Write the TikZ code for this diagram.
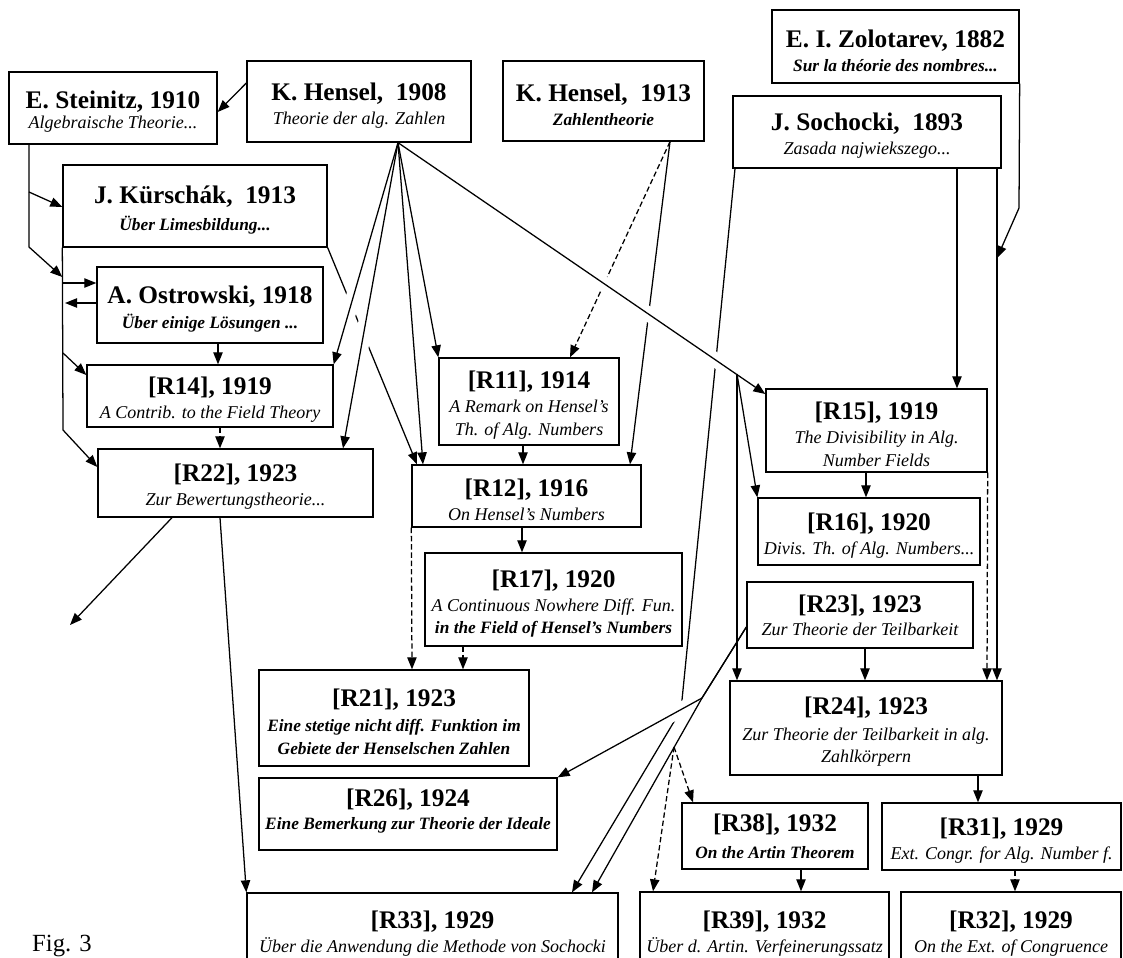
\documentclass[tikz,border=0pt]{standalone}
\usepackage{fontspec}
\setmainfont{Liberation Serif}
\usetikzlibrary{arrows.meta,backgrounds,calc}

\tikzset{
  pbox/.style={draw, line width=1pt, inner sep=0pt, align=center,
    font=\fontsize{13.5}{17}\selectfont},
  arr/.style={line width=0.95pt, -{Triangle[length=9pt,width=7pt]}},
  dsh/.style={dash pattern=on 4pt off 2.2pt},
  halo/.style={draw=white, line width=11pt, shorten <=16pt, shorten >=16pt},
}
% title line (with and without extra head room), italic and bold italic subtitle lines
\newcommand{\ttl}[1]{{\fontsize{19}{22}\selectfont\bfseries\rule{0pt}{19pt}#1}}
\newcommand{\ttlb}[1]{{\fontsize{19}{22}\selectfont\bfseries #1}}
\newcommand{\subi}[1]{{\itshape #1}}
\newcommand{\subb}[1]{{\fontsize{13}{17}\selectfont\bfseries\itshape #1}}
% box from (x1,y1) to (x2,y2), in picture units
\newcommand{\pubbox}[6]{%
  \node[pbox, minimum width={(#4-#2)*0.75pt}, minimum height={(#5-#3)*0.75pt}]
    (#1) at ({(#2+#4)/2},{(#3+#5)/2}) {#6};}

\begin{document}
\begin{tikzpicture}[x=0.75pt,y=-0.75pt]
\useasboundingbox (0,0) rectangle (1123,957);

% ---------- sources ----------
\pubbox{stz}{9}{72}{217}{144}{\ttl{E. Steinitz, 1910}\\[-2pt] \subi{Algebraische Theorie...}}
\pubbox{h08}{247}{61}{471}{142}{\ttl{K. Hensel,\ \ 1908}\\[1pt] \subi{Theorie der alg. Zahlen}}
\pubbox{h13}{503}{61}{704}{141}{\ttl{K. Hensel,\ \ 1913}\\[1pt] \subb{Zahlentheorie}}
\pubbox{zol}{772}{10}{1019}{83}{\ttl{E. I. Zolotarev, 1882}\\[1pt] \subb{Sur la théorie des nombres...}}
\pubbox{soc}{733}{96}{1001}{168}{\ttl{J. Sochocki,\ \ 1893}\\[1pt] \subi{Zasada najwiekszego...}}
\pubbox{kur}{63}{165}{327}{247}{\ttl{J. Kürschák,\ \ 1913}\\[3pt] \subb{Über Limesbildung...}}
\pubbox{ost}{97}{267}{323}{343}{\ttl{A. Ostrowski, 1918}\\[2pt] \subb{Über einige Lösungen ...}}

% ---------- papers ----------
\pubbox{r14}{87}{365}{333}{427}{\ttl{[R14], 1919}\\[1pt] \subi{A Contrib. to the Field Theory}}
\pubbox{r22}{98}{449}{373}{517}{\ttl{[R22], 1923}\\[1pt] \subi{Zur Bewertungstheorie...}}
\pubbox{r11}{439}{358}{619}{445}{\ttl{[R11], 1914}\\[1pt] \subi{A Remark on Hensel's}\\ \subi{Th. of Alg. Numbers}}
\pubbox{r12}{412}{465}{641}{527}{\ttl{[R12], 1916}\\[1pt] \subi{On Hensel's Numbers}}
\pubbox{r17}{425}{553}{682}{646}{\ttl{[R17], 1920}\\[1pt] \subi{A Continuous Nowhere Diff. Fun.}\\ \subb{in the Field of Hensel's Numbers}}
\pubbox{r21}{259}{670}{529}{766}{\ttl{[R21], 1923}\\[2pt] \subb{Eine stetige nicht diff. Funktion im}\\ \subb{Gebiete der Henselschen Zahlen}}
\pubbox{r26}{259}{778}{557}{850}{\ttl{[R26], 1924}\\ \subb{Eine Bemerkung zur Theorie der Ideale}\\[-4pt]}
\pubbox{r33}{247}{893}{618}{967}{\ttl{[R33], 1929}\\[1pt] \subi{Über die Anwendung die Methode von Sochocki}}
\pubbox{r15}{766}{389}{987}{472}{\ttl{[R15], 1919}\\[1pt] \subi{The Divisibility in Alg.}\\ \subi{Number Fields}}
\pubbox{r16}{758}{498}{980}{565}{\ttl{[R16], 1920}\\[1pt] \subi{Divis. Th. of Alg. Numbers...}}
\pubbox{r23}{747}{582}{973}{648}{\ttlb{[R23], 1923}\\ \subi{Zur Theorie der Teilbarkeit}}
\pubbox{r24}{730}{681}{1002}{775}{\ttl{[R24], 1923}\\[2pt] \subi{Zur Theorie der Teilbarkeit in alg.}\\ \subi{Zahlkörpern}}
\pubbox{r38}{682}{803}{868}{869}{\ttlb{[R38], 1932}\\[3pt] \subb{On the Artin Theorem}}
\pubbox{r31}{882}{803}{1121}{870}{\ttl{[R31], 1929}\\[1pt] \subi{Ext. Congr. for Alg. Number f.}}
\pubbox{r39}{640}{892}{889}{967}{\ttl{[R39], 1932}\\[1pt] \subi{Über d. Artin. Verfeinerungssatz}}
\pubbox{r32}{901}{892}{1121}{967}{\ttl{[R32], 1929}\\[1pt] \subi{On the Ext. of Congruence}}

\node[font=\fontsize{18.5}{20}\selectfont, anchor=base] (fig) at (62,951) {Fig. 3};

% ---------- junction points ----------
\coordinate (ho) at (h08.south -| 398,0);
\coordinate (to15) at (r15.west |- 0,394);
\coordinate (hb) at (737,374);
\coordinate (k13) at (h13.south -| 670,0);
\coordinate (sx) at (soc.south -| 735,0);
\coordinate (sbend) at (681,710);
\coordinate (r23o) at (r23.west |- 0,627);
\coordinate (rj) at (702,698);
\coordinate (dj) at (674,747);
\coordinate (zk) at (1019,208);
\coordinate (zj) at (997,258);
\coordinate (sb1) at (29,192);
\coordinate (sb2) at (29,247);
\coordinate (kb0) at (63,430);
\coordinate (kb1) at (63,283);
\coordinate (kb2) at (65,303);
\coordinate (kb3) at (63,353);
\coordinate (free) at (70,625);

\begin{pgfonlayer}{background}
% lines passing under others
\draw[arr] (kur.south east) -- (r12.north -| 417,0);
\draw[arr] (sx) -- (sbend) -- (r33.north -| 572,0);
\draw[arr] (k13) -- (r12.north -| 630,0);
\draw[arr,dsh] (k13) -- (r11.north -| 570,0);
% white gaps at the crossings
\draw[halo] (ho) -- (r14.north east);
\draw[halo] (ho) -- (r22.north -| 343,0);
\draw[halo] (ho) -- (to15);
\draw[halo] (r23o) -- (rj) -- (r26.north east);

% K. Hensel 1908
\draw[arr] (h08.west |- 0,83) -- (stz.east |- 0,112);
\draw[arr] (ho) -- (r14.north east);
\draw[arr] (ho) -- (r22.north -| 343,0);
\draw[arr] (ho) -- (r12.north -| 423,0);
\draw[arr] (ho) -- (r11.north west);
\draw[arr] (ho) -- (to15);
\draw[arr] (hb) -- (r16.north west);
\draw[arr] (hb) -- (r24.north -| 737,0);

% Steinitz, Kürschák, Ostrowski
\draw[arr] (stz.south -| 29,0) -- (sb2) -- (kur.west |- 0,277);
\draw[arr] (sb1) -- (kur.west |- 0,207);
\draw[arr] (kur.south west) -- (kb0) -- (r22.west |- 0,467);
\draw[arr] (kb3) -- (r14.west |- 0,375);
\draw[arr] (kb1) -- (ost.west |- 0,283);
\draw[arr] (ost.west |- 0,303) -- (kb2);
\draw[arr] (ost.south -| 218,0) -- (r14.north -| 218,0);
\draw[arr,dsh] (r14.south -| 220,0) -- (r22.north -| 220,0);
\draw[arr] (r22.south -| 172,0) -- (free);
\draw[arr] (r22.south -| 220,0) -- (r33.north west);

% Hensel numbers papers
\draw[arr] (r11.south -| 523,0) -- (r12.north -| 523,0);
\draw[arr] (r12.south -| 522,0) -- (r17.north -| 522,0);
\draw[arr,dsh] (r17.south -| 463,0) -- (r21.north -| 463,0);
\draw[arr,dsh] (r12.south west) -- (r21.north -| 412,0);

% Sochocki and Zolotarev
\draw[arr] (soc.south -| 957,0) -- (r15.north -| 957,0);
\draw[arr] (soc.south -| 997,0) -- (r24.north -| 997,0);
\draw[arr] (zol.south east) -- (zk) -- (zj);

% divisibility papers
\draw[arr] (r15.south -| 866,0) -- (r16.north -| 866,0);
\draw[arr,dsh] (r15.south east) -- (r24.north -| 987,0);
\draw[arr] (r23.south -| 865,0) -- (r24.north -| 865,0);
\draw[arr] (r23o) -- (rj) -- (r26.north east);
\draw[arr] (r23o) -- (rj) -- (r33.north -| 592,0);
\draw[arr,dsh] (dj) -- (r38.north -| 693,0);
\draw[arr,dsh] (dj) -- (r39.north -| 653,0);
\draw[arr] (r24.south -| 978,0) -- (r31.north -| 978,0);
\draw[arr,dsh] (r31.south -| 1015,0) -- (r32.north -| 1015,0);
\draw[arr] (r38.south -| 801,0) -- (r39.north -| 801,0);
\end{pgfonlayer}
\end{tikzpicture}
\end{document}
